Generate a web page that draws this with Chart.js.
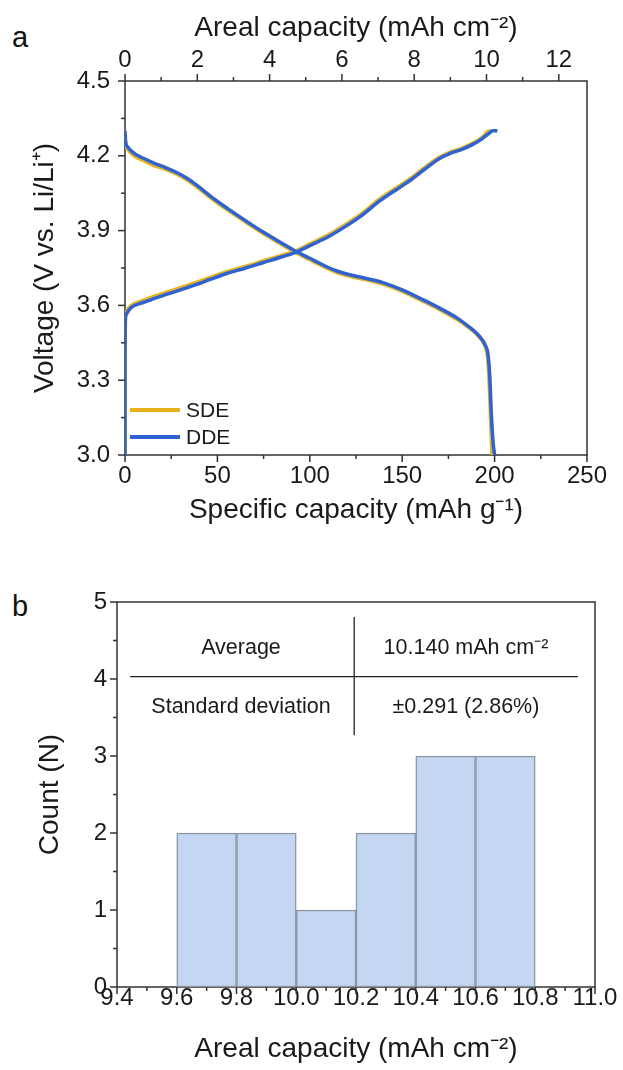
<!doctype html>
<html lang="en">
<head>
<meta charset="UTF-8">
<title>Voltage profiles and areal capacity</title>
<script src="https://cdn.jsdelivr.net/npm/chart.js@4.4.0/dist/chart.umd.min.js"></script>
<style>
  body {
    margin: 0;
    background: #fff;
    width: 623px;
    height: 1070px;
    position: relative;
    overflow: hidden;
    font-family: 'Liberation Sans', Arial, sans-serif;
  }
  .panel {
    position: absolute;
    left: 12px;
    font-size: 29px;
    line-height: 29px;
    color: #111;
  }
  canvas { position: absolute; left: 0; }
</style>
</head>
<body>
<div class="panel" style="top:23px">a</div>
<div class="panel" style="top:592px">b</div>
<canvas id="voltageChart" width="623" height="540" style="top:0"></canvas>
<canvas id="histChart" width="623" height="510" style="top:560px"></canvas>

<script>
    // panel a - charge / discharge profiles (mAh g-1, V)
    const sdeChargeCap = [0, 0, 0.2, 0.8, 2, 4, 8, 12, 16, 22, 30, 38, 46, 55, 65, 75, 85, 93, 100, 110, 120, 128, 138, 148, 155, 162, 170, 176, 182, 188, 193, 196.5, 198];
    const sdeChargeV   = [3.00, 3.40, 3.55, 3.575, 3.59, 3.603, 3.615, 3.626, 3.637, 3.652, 3.671, 3.691, 3.712, 3.735, 3.756, 3.779, 3.801, 3.821, 3.847, 3.883, 3.928, 3.968, 4.028, 4.077, 4.112, 4.152, 4.194, 4.215, 4.23, 4.25, 4.273, 4.298, 4.30];
    const sdeDischargeCap = [0, 0.3, 1.5, 5, 10, 16, 22, 28, 34, 40, 48, 56, 66, 75, 84, 93, 100, 105, 110, 115, 120, 127, 135, 140, 150, 160, 170, 180, 186, 190, 193, 195, 196.2, 197, 197.8, 198.6];
    const sdeDischargeV   = [4.29, 4.25, 4.225, 4.20, 4.18, 4.16, 4.146, 4.126, 4.101, 4.068, 4.021, 3.98, 3.93, 3.887, 3.847, 3.809, 3.783, 3.764, 3.746, 3.731, 3.72, 3.708, 3.695, 3.684, 3.656, 3.621, 3.584, 3.542, 3.511, 3.486, 3.46, 3.432, 3.39, 3.30, 3.15, 3.00];

    const ddeChargeCap = [0, 0, 0.2, 0.8, 2, 4, 8, 12, 16, 22, 30, 38, 46, 55, 65, 75, 85, 93, 100, 110, 120, 128, 138, 148, 155, 162, 170, 176, 182, 188, 193, 197, 199, 201.5];
    const ddeChargeV   = [3.00, 3.40, 3.54, 3.565, 3.58, 3.595, 3.607, 3.617, 3.628, 3.643, 3.662, 3.682, 3.704, 3.728, 3.749, 3.772, 3.795, 3.815, 3.84, 3.875, 3.92, 3.96, 4.02, 4.07, 4.105, 4.145, 4.188, 4.21, 4.225, 4.245, 4.267, 4.29, 4.30, 4.30];
    const ddeDischargeCap = [0, 0.3, 1.5, 5, 10, 16, 22, 28, 34, 40, 48, 56, 66, 75, 84, 93, 100, 105, 110, 115, 120, 127, 135, 140, 150, 160, 170, 180, 186, 190, 193, 195, 196.5, 197.5, 198.2, 199.2, 200];
    const ddeDischargeV   = [4.30, 4.26, 4.235, 4.21, 4.19, 4.17, 4.153, 4.133, 4.108, 4.075, 4.028, 3.986, 3.936, 3.893, 3.853, 3.815, 3.789, 3.77, 3.752, 3.737, 3.726, 3.714, 3.701, 3.69, 3.662, 3.627, 3.59, 3.548, 3.515, 3.49, 3.465, 3.44, 3.40, 3.30, 3.17, 3.05, 3.00];

    const seriesNames = ['SDE', 'DDE'];
    const seriesColors = ['#E8B21A', '#2F62D2'];
    const arealAxisMax = 12.78;   // top axis, mAh cm-2 equivalent of 250 mAh g-1

    // panel b - histogram of areal capacity
    const binCenters = [9.7, 9.9, 10.1, 10.3, 10.5, 10.7];
    const binCounts  = [2, 2, 1, 2, 3, 3];
    const statNames  = ['Average', 'Standard deviation'];
    const statValues = ['10.140 mAh cm\u207B\u00B2', '\u00B10.291 (2.86%)'];

    const FONT = "'Liberation Sans', Arial, sans-serif";
    const INK = '#1a1a1a';

    function toPoints(caps, volts) {
        return caps.map((c, i) => ({ x: c, y: volts[i] }));
    }

    // frame around the plot area plus major/minor tick marks pointing outwards
    const frameTicks = {
        id: 'frameTicks',
        beforeDatasetsDraw(chart, args, opts) {
            const { ctx, chartArea: a } = chart;
            ctx.save();
            ctx.strokeStyle = '#333';
            ctx.lineWidth = 1.5;
            ctx.strokeRect(a.left, a.top, a.right - a.left, a.bottom - a.top);
            (opts.marks || []).forEach(m => {
                const s = chart.scales[m.id];
                for (let i = 0; ; i++) {
                    const v = s.min + i * m.minor;
                    if (v > s.max + 1e-9) break;
                    const r = v / m.major;
                    const len = Math.abs(r - Math.round(r)) < 1e-6 ? 7 : 4;
                    const p = s.getPixelForValue(v);
                    ctx.beginPath();
                    if (s.position === 'bottom') { ctx.moveTo(p, a.bottom); ctx.lineTo(p, a.bottom + len); }
                    else if (s.position === 'top') { ctx.moveTo(p, a.top); ctx.lineTo(p, a.top - len); }
                    else { ctx.moveTo(a.left, p); ctx.lineTo(a.left - len, p); }
                    ctx.stroke();
                }
            });
            ctx.restore();
        }
    };

    const lineLegend = {
        id: 'lineLegend',
        afterDatasetsDraw(chart) {
            const { ctx, chartArea: a } = chart;
            ctx.save();
            ctx.font = '21px ' + FONT;
            ctx.textBaseline = 'middle';
            chart.data.datasets.forEach((ds, i) => {
                const y = a.bottom - 45 + i * 27;
                ctx.strokeStyle = ds.borderColor;
                ctx.lineWidth = 4;
                ctx.beginPath();
                ctx.moveTo(a.left + 5, y);
                ctx.lineTo(a.left + 55, y);
                ctx.stroke();
                ctx.fillStyle = INK;
                ctx.fillText(ds.label, a.left + 61, y + 1);
            });
            ctx.restore();
        }
    };

    const statsTable = {
        id: 'statsTable',
        afterDraw(chart) {
            const { ctx, scales: { x, y } } = chart;
            ctx.save();
            ctx.strokeStyle = '#222';
            ctx.lineWidth = 1.3;
            ctx.beginPath();
            ctx.moveTo(x.getPixelForValue(9.444), y.getPixelForValue(4.03));
            ctx.lineTo(x.getPixelForValue(10.943), y.getPixelForValue(4.03));
            ctx.moveTo(x.getPixelForValue(10.194), y.getPixelForValue(4.805));
            ctx.lineTo(x.getPixelForValue(10.194), y.getPixelForValue(3.27));
            ctx.stroke();
            ctx.font = '21.5px ' + FONT;
            ctx.fillStyle = INK;
            ctx.textAlign = 'center';
            ctx.textBaseline = 'middle';
            const rows = [4.40, 3.636];
            statNames.forEach((name, i) => {
                ctx.fillText(name, x.getPixelForValue(9.815), y.getPixelForValue(rows[i]));
                ctx.fillText(statValues[i], x.getPixelForValue(10.568), y.getPixelForValue(rows[i]));
            });
            ctx.restore();
        }
    };

    function fixBox(size, horizontal) {
        return s => {
            if (horizontal) s.height = size; else s.width = size;
            s.paddingLeft = 0; s.paddingRight = 0; s.paddingTop = 0; s.paddingBottom = 0;
        };
    }

    const tickFont = { family: FONT, size: 24 };
    const titleFont = { family: FONT, size: 28 };

    new Chart(document.getElementById('voltageChart'), {
        type: 'line',
        data: {
            datasets: [
                {
                    label: seriesNames[0],
                    data: [...toPoints(sdeChargeCap, sdeChargeV), { x: 0, y: null }, ...toPoints(sdeDischargeCap, sdeDischargeV)],
                    borderColor: seriesColors[0],
                    order: 2
                },
                {
                    label: seriesNames[1],
                    data: [...toPoints(ddeChargeCap, ddeChargeV), { x: 0, y: null }, ...toPoints(ddeDischargeCap, ddeDischargeV)],
                    borderColor: seriesColors[1],
                    order: 1
                }
            ]
        },
        options: {
            responsive: false,
            animation: false,
            devicePixelRatio: 1,
            layout: { padding: { left: 0, top: 0, right: 36, bottom: 0 } },
            datasets: {
                line: { borderWidth: 3.5, pointRadius: 0, fill: false, spanGaps: false, cubicInterpolationMode: 'monotone' }
            },
            plugins: {
                legend: { display: false },
                tooltip: { enabled: false },
                frameTicks: {
                    marks: [
                        { id: 'x', minor: 25, major: 50 },
                        { id: 'x2', minor: 1, major: 2 },
                        { id: 'y', minor: 0.15, major: 0.3 }
                    ]
                }
            },
            scales: {
                x: {
                    type: 'linear', position: 'bottom', min: 0, max: 250,
                    grid: { display: false, drawTicks: false },
                    border: { display: false },
                    ticks: { stepSize: 50, padding: 6.5, font: tickFont, color: INK, maxRotation: 0, autoSkip: false, includeBounds: false },
                    title: { display: true, text: 'Specific capacity (mAh g\u207B\u00B9)', font: titleFont, color: INK, padding: { top: 0, bottom: 13 } },
                    afterFit: fixBox(85, true)
                },
                x2: {
                    type: 'linear', position: 'top', min: 0, max: arealAxisMax, display: true,
                    grid: { display: false, drawTicks: false },
                    border: { display: false },
                    ticks: { stepSize: 2, padding: 6.5, font: tickFont, color: INK, maxRotation: 0, autoSkip: false, includeBounds: false,
                             callback: v => String(Math.round(v)) },
                    title: { display: true, text: 'Areal capacity (mAh cm\u207B\u00B2)', font: titleFont, color: INK, padding: { top: 11, bottom: 0 } },
                    afterFit: fixBox(81, true)
                },
                y: {
                    type: 'linear', position: 'left', min: 3.0, max: 4.5,
                    grid: { display: false, drawTicks: false },
                    border: { display: false },
                    ticks: { stepSize: 0.3, padding: 15, font: tickFont, color: INK, includeBounds: false,
                             callback: v => v.toFixed(1) },
                    title: { display: true, text: 'Voltage (V vs. Li/Li\u207A)', font: titleFont, color: INK, padding: { top: 28, bottom: 0 } },
                    afterFit: fixBox(125, false)
                }
            }
        },
        plugins: [frameTicks, lineLegend]
    });

    new Chart(document.getElementById('histChart'), {
        type: 'bar',
        data: {
            datasets: [{
                label: 'Count',
                data: binCenters.map((c, i) => ({ x: c, y: binCounts[i] })),
                backgroundColor: '#C5D6F2',
                borderColor: '#8d95a5',
                borderWidth: 1.5,
                borderSkipped: false,
                barPercentage: 1,
                categoryPercentage: 1
            }]
        },
        options: {
            responsive: false,
            animation: false,
            devicePixelRatio: 1,
            layout: { padding: { left: 0, top: 42, right: 28, bottom: 0 } },
            plugins: {
                legend: { display: false },
                tooltip: { enabled: false },
                frameTicks: {
                    marks: [
                        { id: 'x', minor: 0.1, major: 0.2 },
                        { id: 'y', minor: 0.5, major: 1 }
                    ]
                }
            },
            scales: {
                x: {
                    type: 'linear', position: 'bottom', min: 9.4, max: 11.0, offset: false,
                    grid: { display: false, drawTicks: false, offset: false },
                    border: { display: false },
                    ticks: { stepSize: 0.2, padding: -3.5, font: tickFont, color: INK, maxRotation: 0, autoSkip: false, includeBounds: false,
                             callback: v => v.toFixed(1) },
                    title: { display: true, text: 'Areal capacity (mAh cm\u207B\u00B2)', font: titleFont, color: INK, padding: { top: 0, bottom: 4 } },
                    afterFit: fixBox(83, true)
                },
                y: {
                    type: 'linear', position: 'left', min: 0, max: 5,
                    grid: { display: false, drawTicks: false },
                    border: { display: false },
                    ticks: { stepSize: 1, padding: 10, font: tickFont, color: INK, includeBounds: false },
                    title: { display: true, text: 'Count (N)', font: titleFont, color: INK, padding: { top: 33, bottom: 0 } },
                    afterFit: fixBox(117, false)
                }
            }
        },
        plugins: [frameTicks, statsTable]
    });
</script>
</body>
</html>
